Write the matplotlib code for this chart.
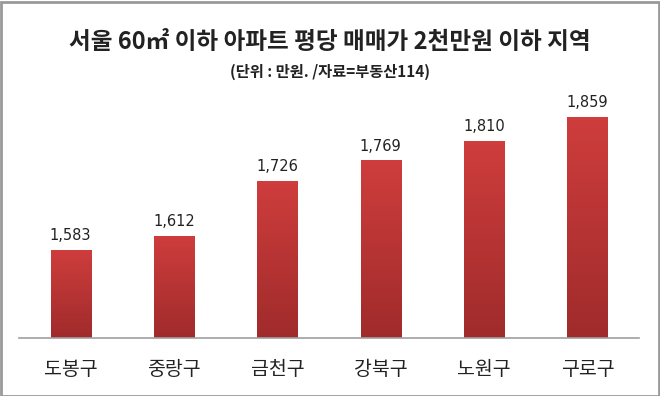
import matplotlib
matplotlib.use("Agg")
import matplotlib.pyplot as plt
import numpy as np
from matplotlib.colors import LinearSegmentedColormap
from matplotlib.patches import Rectangle

plt.rcParams['font.family'] = ['Noto Sans CJK KR', 'DejaVu Sans']

categories = ['도봉구', '중랑구', '금천구', '강북구', '노원구', '구로구']
values = [1583, 1612, 1726, 1769, 1810, 1859]
value_labels = ['1,583', '1,612', '1,726', '1,769', '1,810', '1,859']
title = '서울 60㎡ 이하 아파트 평당 매매가 2천만원 이하 지역'
subtitle = '(단위 : 만원. /자료=부동산114)'

W, H = 660, 396
fig = plt.figure(figsize=(W / 100, H / 100), dpi=100)
fig.patch.set_facecolor('white')

ax = fig.add_axes([19 / W, 58 / H, 620 / W, 289 / H])
ymin, ymax = 1400, 2000
ax.set_xlim(-0.5, 5.5)
ax.set_ylim(ymin, ymax)

cmap = LinearSegmentedColormap.from_list('bar', ['#a02b2b', '#cf3d3d'])
grad = np.linspace(0, 1, 256).reshape(-1, 1)
bw = 0.39
x = np.arange(len(categories))
bars = ax.bar(x, [v - ymin for v in values], bottom=ymin, width=bw, color='none', edgecolor='none')
for b, v, lab in zip(bars, values, value_labels):
    x0 = b.get_x()
    im = ax.imshow(grad, extent=[x0, x0 + bw, ymin, v], origin='lower', cmap=cmap,
                   aspect='auto', zorder=2)
    im.set_clip_path(b)
    ax.text(b.get_x() + bw / 2, v + 14, lab, ha='center', va='bottom', fontsize=10.5,
            family='DejaVu Sans', color='#222222')

ax.set_xticks(x)
ax.set_xticklabels(categories, fontsize=14, color='#222222')
ax.tick_params(axis='x', length=0, pad=15)
ax.set_yticks([])
for s in ['top', 'right', 'left']:
    ax.spines[s].set_visible(False)
ax.spines['bottom'].set_color('#a0a0a0')
ax.spines['bottom'].set_linewidth(1.2)
ax.set_xlim(-0.5, 5.5)
ax.set_ylim(ymin, ymax)

fig.text(0.5, 1 - 42 / H, title, ha='center', va='center', fontsize=17, fontweight='bold',
         color='#222222')
fig.text(0.5, 1 - 72 / H, subtitle, ha='center', va='center', fontsize=11, fontweight='bold',
         color='#222222')

border = Rectangle((0.5 / W, 0.5 / H), 1 - 2 / W, 1 - 2 / H, transform=fig.transFigure,
                   fill=False, edgecolor='#999999', linewidth=2)
fig.patches.append(border)

fig.savefig('out.png', dpi=100)
